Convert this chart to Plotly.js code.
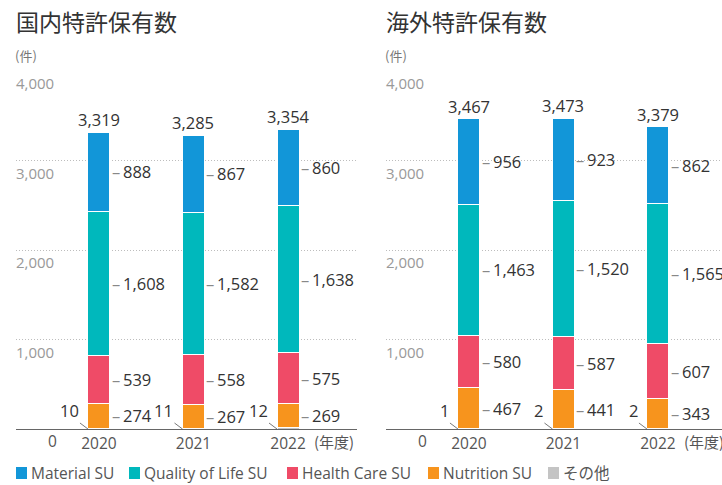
<!DOCTYPE html>
<html>
<head>
<meta charset="utf-8">
<script src="https://cdn.plot.ly/plotly-3.0.1.min.js"></script>
<style>html,body{margin:0;padding:0;background:#fff;}#chart{width:722px;height:485px;}</style>
</head>
<body>
<div id="chart"></div>
<script>
// ---- data ----
const years = ['2020', '2021', '2022'];
const seriesNames = ['その他', 'Nutrition SU', 'Health Care SU', 'Quality of Life SU', 'Material SU'];
// 国内特許保有数
const domOther = [10, 11, 12];
const domNutrition = [274, 267, 269];
const domHealth = [539, 558, 575];
const domQoL = [1608, 1582, 1638];
const domMaterial = [888, 867, 860];
const domTotal = [3319, 3285, 3354];
// 海外特許保有数
const ovsOther = [1, 2, 2];
const ovsNutrition = [467, 441, 343];
const ovsHealth = [580, 587, 607];
const ovsQoL = [1463, 1520, 1565];
const ovsMaterial = [956, 923, 862];
const ovsTotal = [3467, 3473, 3379];
const yTicks = [0, 1000, 2000, 3000, 4000];
const titles = ['国内特許保有数', '海外特許保有数'];
const unitLabel = '(件)';
const yearUnit = '(年度)';

// ---- styles ----
const colors = ['#c4c4c4', '#f7941d', '#ef4b67', '#00b8bc', '#1296d8'];
const FONT = "'Noto Sans CJK JP', 'Noto Sans', sans-serif";
const NUMFONT = "'Open Sans', 'Noto Sans', 'Noto Sans CJK JP', sans-serif";
const W = 722, H = 485, T = 71, B = 56;
const px2x = p => p / W;
const px2y = p => (H - B - p) / (H - T - B);

const charts = [
  {xa: 'x', ya: 'y', left: 16, data: [domOther, domNutrition, domHealth, domQoL, domMaterial], total: domTotal, title: titles[0]},
  {xa: 'x2', ya: 'y2', left: 386, data: [ovsOther, ovsNutrition, ovsHealth, ovsQoL, ovsMaterial], total: ovsTotal, title: titles[1]}
];

const traces = [];
const annotations = [];
const fmt = v => v.toLocaleString('en-US');

charts.forEach((c, ci) => {
  c.data.forEach((vals, si) => {
    traces.push({
      type: 'bar', x: years, y: vals, name: seriesNames[si],
      xaxis: c.xa, yaxis: c.ya, width: 0.233,
      marker: {color: colors[si], line: {color: '#ffffff', width: 1}},
      hoverinfo: 'skip', showlegend: false
    });
  });
  // segment labels (x given as category index)
  years.forEach((yr, i) => {
    let cum = c.data[0][i];
    for (let si = 1; si < c.data.length; si++) {
      const v = c.data[si][i];
      annotations.push({
        xref: c.xa, yref: c.ya, x: i, y: cum + v / 2, xshift: 11, xanchor: 'left', yanchor: 'middle',
        showarrow: false, text: "<span style='color:#888'>–</span>\u2009" + fmt(v),
        font: {family: NUMFONT, size: 16.5, color: '#333'}
      });
      cum += v;
    }
    // total
    annotations.push({
      xref: c.xa, yref: c.ya, x: i, y: c.total[i], xanchor: 'center', yanchor: 'bottom', yshift: -1,
      showarrow: false, text: fmt(c.total[i]), font: {family: NUMFONT, size: 16.5, color: '#333'}
    });
    // その他 label with leader line
    annotations.push({
      xref: c.xa, yref: c.ya, x: i, y: 0, xshift: -11,
      showarrow: true, arrowhead: 0, arrowwidth: 0.8, arrowcolor: '#555',
      ax: -8, ay: -6, xanchor: 'right', yanchor: 'bottom', borderpad: 0,
      text: fmt(c.data[0][i]), font: {family: NUMFONT, size: 16.5, color: '#333'}
    });
  });
  // y tick labels
  yTicks.forEach(t => {
    if (t === 0) {
      annotations.push({xref: 'paper', yref: 'paper', x: px2x(c.left + 36), y: px2y(441), xanchor: 'center', yanchor: 'middle',
        showarrow: false, text: '0', font: {family: NUMFONT, size: 15.5, color: '#555'}});
    } else {
      annotations.push({xref: 'paper', yref: c.ya, x: px2x(c.left - 2), y: t, xanchor: 'left', yanchor: 'top', yshift: 0,
        showarrow: false, text: fmt(t), font: {family: NUMFONT, size: 15, color: '#999'}});
    }
  });
  // titles
  annotations.push({xref: 'paper', yref: 'paper', x: px2x(c.left - 2), y: px2y(21), xanchor: 'left', yanchor: 'middle',
    showarrow: false, text: c.title, font: {family: FONT, size: 23, color: '#333'}});
  annotations.push({xref: 'paper', yref: 'paper', x: px2x(c.left - 3), y: px2y(55), xanchor: 'left', yanchor: 'middle',
    showarrow: false, text: unitLabel, font: {family: FONT, size: 13, color: '#777'}});
  annotations.push({xref: 'paper', yref: 'paper', x: px2x(c.left + 296), y: px2y(441), xanchor: 'left', yanchor: 'middle',
    showarrow: false, text: yearUnit, font: {family: FONT, size: 15, color: '#555'}});
});

// legend (manual)
const legendOrder = [4, 3, 2, 1, 0];
const legendSwatchX = [16, 129, 287, 428, 548];
const shapes = [];
legendOrder.forEach((si, k) => {
  const x0 = legendSwatchX[k];
  shapes.push({type: 'rect', xref: 'paper', yref: 'paper', x0: px2x(x0), x1: px2x(x0 + 11), y0: px2y(479), y1: px2y(467),
    fillcolor: colors[si], line: {width: 0}});
  annotations.push({xref: 'paper', yref: 'paper', x: px2x(x0 + 13), y: px2y(473), xanchor: 'left', yanchor: 'middle',
    showarrow: false, text: seriesNames[si], font: {family: NUMFONT, size: 15.5, color: '#555'}});
});

const xCommon = {
  type: 'category', categoryorder: 'array', categoryarray: years,
  showline: true, linecolor: '#666', linewidth: 1, ticks: '', showgrid: false, zeroline: false,
  tickfont: {family: NUMFONT, size: 15.5, color: '#555'}, fixedrange: true
};
const yCommon = {
  range: [0, 4003], tickvals: yTicks.slice(1), showticklabels: false,
  showgrid: true, gridcolor: '#bdbdbd', griddash: '1px,2px', gridwidth: 1, zeroline: false, showline: false, fixedrange: true
};

const layout = {
  width: W, height: H,
  margin: {l: 0, r: 0, t: T, b: B, pad: 0},
  paper_bgcolor: '#ffffff', plot_bgcolor: '#ffffff',
  barmode: 'stack', showlegend: false,
  font: {family: FONT},
  xaxis: Object.assign({}, xCommon, {domain: [px2x(16), px2x(357)], range: [-0.878, 2.73], anchor: 'y'}),
  yaxis: Object.assign({}, yCommon, {anchor: 'x'}),
  xaxis2: Object.assign({}, xCommon, {domain: [px2x(386), 1], range: [-0.878, 2.678], anchor: 'y2'}),
  yaxis2: Object.assign({}, yCommon, {anchor: 'x2'}),
  annotations: annotations,
  shapes: shapes
};

Plotly.newPlot('chart', traces, layout, {displayModeBar: false, staticPlot: true});
</script>
</body>
</html>
